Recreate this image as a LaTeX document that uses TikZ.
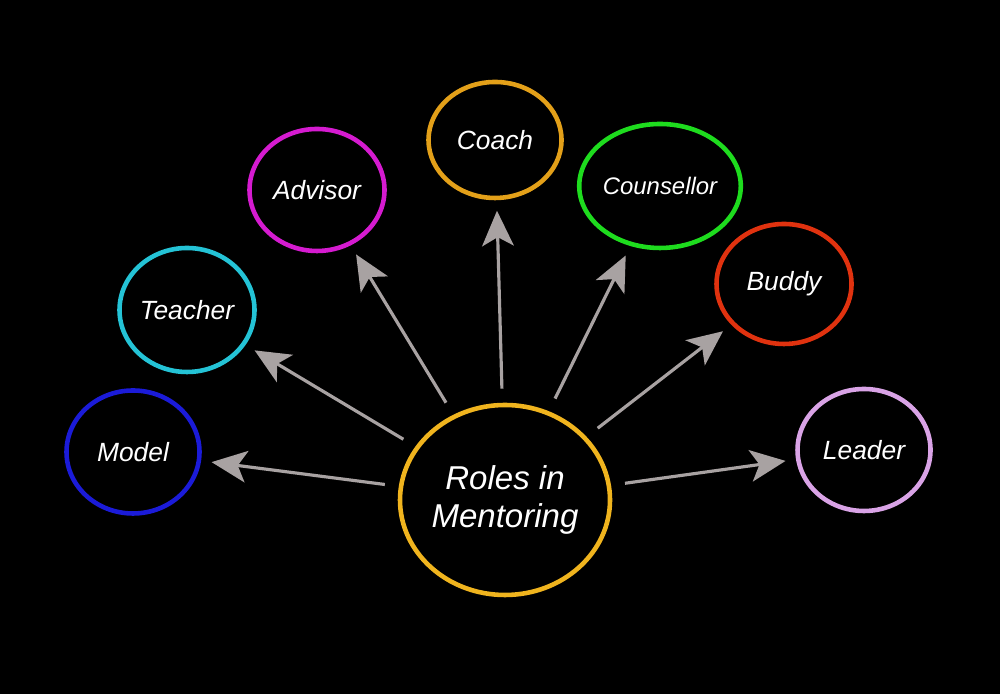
\documentclass[tikz,border=0pt]{standalone}
\usepackage{fontspec}
\setmainfont{Liberation Sans}
\usepackage{xcolor}
\usetikzlibrary{shapes.geometric,arrows.meta}
\definecolor{hubyellow}{HTML}{F0B41E}
\definecolor{modelblue}{HTML}{1B1BD8}
\definecolor{teachercyan}{HTML}{24C3D6}
\definecolor{advisormagenta}{HTML}{D51BD0}
\definecolor{coachorange}{HTML}{E3A019}
\definecolor{counsellorgreen}{HTML}{1EDC1E}
\definecolor{buddyred}{HTML}{E0320F}
\definecolor{leaderlilac}{HTML}{D9A3E6}
\definecolor{arrowgrey}{HTML}{A8A2A2}
\begin{document}
\begin{tikzpicture}[
    role/.style={draw=#1, ellipse, line width=1.3pt, inner sep=0pt, minimum width=1.34cm, minimum height=1.22cm, text=white, font=\fontsize{7.5}{9}\selectfont\itshape},
    arr/.style={-{Stealth[length=10pt,width=9pt,inset=2.5pt]}, draw=arrowgrey, fill=arrowgrey, line width=0.9pt, shorten <=4pt, shorten >=3pt}]
    \useasboundingbox (0,0) rectangle (10,6.94);
    \fill[black] (0,0) rectangle (10,6.94);
    \node[role=hubyellow, minimum width=2.10cm, minimum height=1.90cm, align=center, font=\fontsize{9.4}{10.8}\selectfont\itshape] (hub) at (5.05,1.94) {Roles in\\Mentoring};
    \node[role=modelblue, minimum width=1.33cm, minimum height=1.23cm] (model) at (1.33,2.42) {Model};
    \node[role=teachercyan, minimum width=1.35cm, minimum height=1.24cm] (teacher) at (1.87,3.84) {Teacher};
    \node[role=advisormagenta, minimum width=1.35cm, minimum height=1.22cm] (advisor) at (3.17,5.04) {Advisor};
    \node[role=coachorange, minimum width=1.33cm, minimum height=1.16cm] (coach) at (4.95,5.54) {Coach};
    \node[role=counsellorgreen, minimum width=1.36cm, minimum height=1.24cm, font=\fontsize{6.8}{8}\selectfont\itshape] (counsellor) at (6.60,5.08) {Counsellor};
    \node[role=buddyred, minimum width=1.35cm, minimum height=1.20cm] (buddy) at (7.84,4.10) {Buddy};
    \node[role=leaderlilac, minimum width=1.33cm, minimum height=1.22cm] (leader) at (8.64,2.44) {Leader};
    \draw[arr] (hub) -- (model);
    \draw[arr] (hub) -- (teacher);
    \draw[arr] (hub) -- (advisor);
    \draw[arr] (hub) -- (coach);
    \draw[arr] (hub) -- (counsellor);
    \draw[arr] (hub) -- (buddy);
    \draw[arr] (hub) -- (leader);
\end{tikzpicture}
\end{document}
